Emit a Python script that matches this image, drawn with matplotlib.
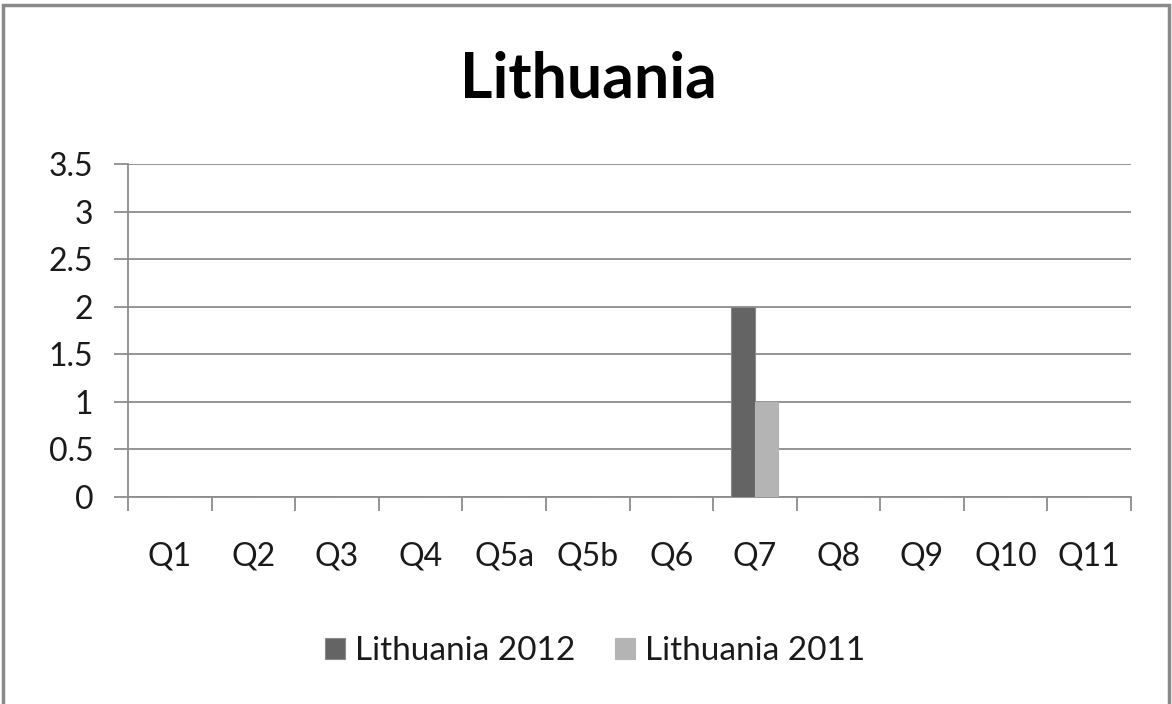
import numpy as np
import matplotlib
matplotlib.use("Agg")
from matplotlib import pyplot as plt
from matplotlib.patches import Rectangle

categories = ['Q1', 'Q2', 'Q3', 'Q4', 'Q5a', 'Q5b', 'Q6', 'Q7', 'Q8', 'Q9', 'Q10', 'Q11']
values_2012 = [0, 0, 0, 0, 0, 0, 0, 2, 0, 0, 0, 0]
values_2011 = [0, 0, 0, 0, 0, 0, 0, 1, 0, 0, 0, 0]
y_ticks = [0, 0.5, 1, 1.5, 2, 2.5, 3, 3.5]
y_labels = ['0', '0.5', '1', '1.5', '2', '2.5', '3', '3.5']

plt.rcParams['font.family'] = ['Lato', 'DejaVu Sans']

W, H = 1172, 704
fig = plt.figure(figsize=(W / 100, H / 100), dpi=100)
fig.patch.set_facecolor('white')

# plot area in pixels: x 128..1131, y 164..497
ax = fig.add_axes([128 / W, 1 - 497 / H, (1131 - 128) / W, (497 - 164) / H])

x = np.arange(len(categories))
bw = 0.28
grid_col = '#8c8c8c'

ax.bar(x - bw / 2, values_2012, bw, color='#646464', edgecolor='#8a8a8a', linewidth=0.8,
       label='Lithuania 2012', zorder=3)
ax.bar(x + bw / 2, values_2011, bw, color='#b4b4b4', edgecolor='#b4b4b4', linewidth=0.8,
       label='Lithuania 2011', zorder=3)

ax.set_xlim(-0.5, len(categories) - 0.5)
ax.set_ylim(0, 3.5)
ax.set_yticks(y_ticks)
ax.set_yticklabels(y_labels, fontsize=23, color='#1a1a1a')
ax.yaxis.grid(True, color=grid_col, linewidth=1.3, zorder=0)

ax.set_xticks(x)
ax.set_xticklabels(categories, fontsize=23, color='#1a1a1a')
ax.set_xticks(np.arange(len(categories) + 1) - 0.5, minor=True)
ax.tick_params(axis='x', which='major', length=0, pad=32)
ax.tick_params(axis='x', which='minor', length=10, width=1.3, color=grid_col)
ax.tick_params(axis='y', length=10, width=1.3, color=grid_col, pad=15)

for s in ['top', 'right']:
    ax.spines[s].set_visible(False)
ax.spines['left'].set_color(grid_col)
ax.spines['left'].set_linewidth(1.3)
ax.spines['bottom'].set_color(grid_col)
ax.spines['bottom'].set_linewidth(1.3)

fig.text(588 / W, 1 - 80 / H, 'Lithuania', ha='center', va='center',
         fontsize=45, fontweight='bold', color='black')

leg = fig.legend(loc='center', bbox_to_anchor=(595 / W, 1 - 651 / H), ncol=2,
                 frameon=False, fontsize=24, handlelength=0.6, handleheight=0.6,
                 handletextpad=0.3, columnspacing=1.2)
for t in leg.get_texts():
    t.set_color('#1a1a1a')

# outer chart border
fig.patches.append(Rectangle((3 / W, -0.05), (W - 6) / W, 1.05 - 5 / H,
                             transform=fig.transFigure, fill=False,
                             edgecolor='#8a8a8a', linewidth=2.5))

fig.savefig('out.png', dpi=100, facecolor='white')
